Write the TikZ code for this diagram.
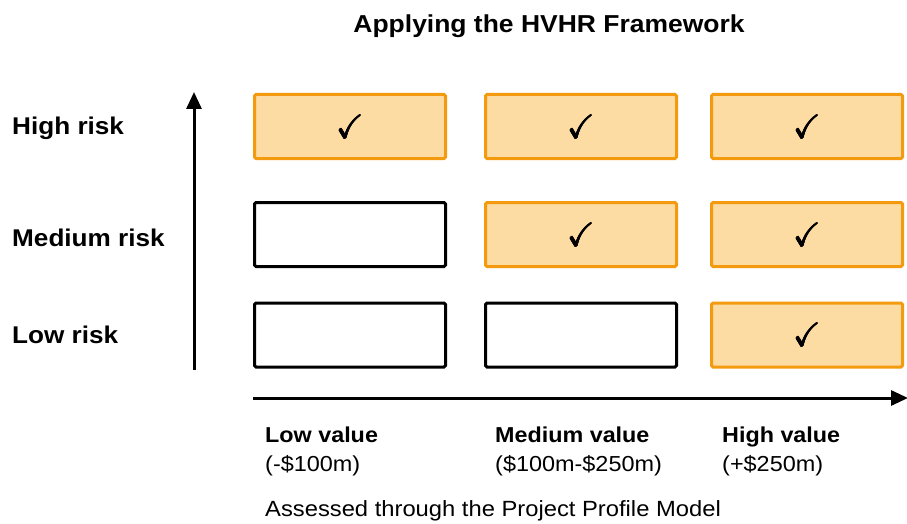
\documentclass[tikz,border=0pt]{standalone}
\usepackage{fontspec}
\usepackage{amssymb}
\usepackage{graphicx}
\setmainfont{Liberation Sans}[FakeStretch=1.08]
\usetikzlibrary{arrows.meta}
\definecolor{hvfill}{HTML}{FDDCA4}
\definecolor{hvedge}{HTML}{F39A0F}
\tikzset{
  cell/.style={draw=black, line width=3pt, rounded corners=1.5pt,
    minimum width=191pt, minimum height=64pt, inner sep=0pt, fill=white},
  hot/.style={cell, draw=hvedge, fill=hvfill},
  axis/.style={line width=3pt, -{Triangle[length=17pt,width=15pt]}},
  risklabel/.style={anchor=base west, inner sep=0pt, font=\fontsize{24.2}{28}\selectfont\bfseries},
  valuelabel/.style={anchor=base west, inner sep=0pt, font=\fontsize{21.6}{26}\selectfont\bfseries},
  rangelabel/.style={anchor=base west, inner sep=0pt, font=\fontsize{21.7}{26}\selectfont}
}
% a heavier check mark: the symbol set a few times with small offsets
\newcommand{\onecheck}{\scalebox{3.3}{$\checkmark$}}
\newcommand{\tickmark}{%
  \makebox[0pt]{\onecheck}%
  \makebox[0pt]{\raisebox{0.6pt}{\onecheck}}%
  \makebox[0pt]{\hspace*{1.2pt}\onecheck}%
  \makebox[0pt]{\hspace*{1.2pt}\raisebox{0.6pt}{\onecheck}}%
  \makebox[0pt]{\hspace*{0.6pt}\raisebox{-0.4pt}{\onecheck}}}
\begin{document}
\begin{tikzpicture}[x=1pt, y=-1pt]
  \useasboundingbox (0,0) rectangle (907,524);

  % title
  \node[anchor=base, inner sep=0pt, font=\fontsize{24.5}{28}\selectfont\bfseries]
    (title) at (549,33) {Applying the HVHR Framework};

  % risk labels
  \node[risklabel] (hr) at (12,135) {High risk};
  \node[risklabel] (mr) at (12,246.5) {Medium risk};
  \node[risklabel] (lr) at (12,343) {Low risk};

  % grid of cells: columns low / medium / high value
  \node[hot]  (c11) at (350,126.5) {\tickmark};
  \node[hot]  (c12) at (581,126.5) {\tickmark};
  \node[hot]  (c13) at (807,126.5) {\tickmark};
  \node[cell] (c21) at (350,234.5) {};
  \node[hot]  (c22) at (581,234.5) {\tickmark};
  \node[hot]  (c23) at (807,234.5) {\tickmark};
  \node[cell] (c31) at (350,335) {};
  \node[cell] (c32) at (581,335) {};
  \node[hot]  (c33) at (807,335) {\tickmark};

  % axes
  \coordinate (vy0) at (194,370);
  \coordinate (vy1) at (194,92);
  \coordinate (hx0) at (253,398);
  \coordinate (hx1) at (908,398);
  \draw[axis] (vy0) -- (vy1);
  \draw[axis] (hx0) -- (hx1);

  % value labels
  \node[valuelabel] (lv) at (265,442.5) {Low value};
  \node[valuelabel] (mv) at (495,442.5) {Medium value};
  \node[valuelabel] (hv) at (722,442.5) {High value};
  \node[rangelabel] (lvr) at (265,471) {(-\$100m)};
  \node[rangelabel] (mvr) at (495,471) {(\$100m-\$250m)};
  \node[rangelabel] (hvr) at (722,471) {(+\$250m)};

  % footnote
  \node[anchor=base west, inner sep=0pt, font=\fontsize{22}{26}\selectfont]
    (note) at (265,516) {Assessed through the Project Profile Model};
\end{tikzpicture}
\end{document}
